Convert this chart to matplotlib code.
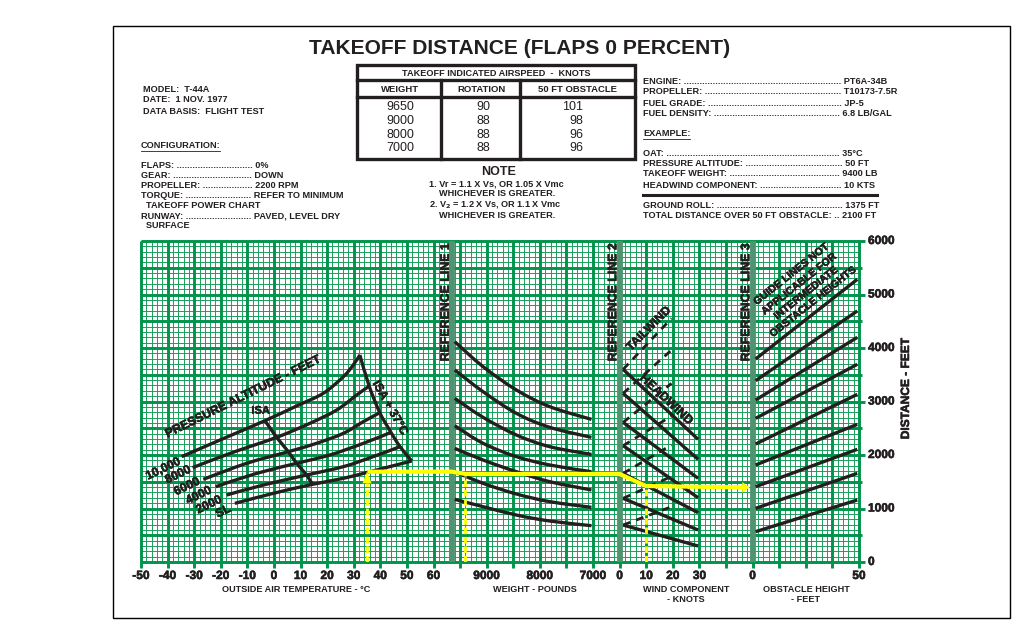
import matplotlib
matplotlib.use('Agg')
import numpy as np
import matplotlib.pyplot as plt
import matplotlib.patheffects as pe
from matplotlib.patches import Rectangle, FancyArrow, PathPatch
from matplotlib.path import Path

plt.rcParams['font.family'] = ['Liberation Sans', 'DejaVu Sans']

GREEN = '#00934a'
MINOR = '#1c9f5b'
REF = '#4e9470'
YEL = '#ffff00'
INK = '#231f20'
# heavier bold for text sitting on the grid
FAT = [pe.withStroke(linewidth=0.4, foreground=INK)]

# temperature panel, deg C / feet
t_10000 = [-34.7, -20.3, -3.4, 8.5, 18.5, 26.1, 29.8, 32.3]
d_10000 = [1969, 2280, 2641, 2916, 3152, 3464, 3682, 3869]
t_8000 = [-30.6, -16.5, 1.0, 13.5, 23.6, 31.1, 35.8]
d_8000 = [1763, 2031, 2330, 2592, 2841, 3121, 3289]
t_6000 = [-26.6, -10.3, 5.4, 16.0, 26.1, 33.6, 39.8]
d_6000 = [1545, 1844, 2062, 2218, 2405, 2623, 2791]
t_4000 = [-21.9, -6.5, 8.5, 21.0, 33.6, 44.0]
d_4000 = [1408, 1657, 1844, 2000, 2218, 2423]
t_2000 = [-17.8, -4.0, 12.3, 26.1, 37.3, 47.4]
d_2000 = [1252, 1439, 1626, 1782, 1969, 2156]
t_sl = [-14.7, -0.3, 14.5, 26.1, 36.1, 51.8]
d_sl = [1096, 1283, 1452, 1564, 1688, 1888]
t_isa = [-3.4, 1.0, 5.4, 8.5, 12.3, 14.5]
d_isa = [2641, 2330, 2062, 1844, 1626, 1452]
t_isa37 = [32.3, 35.8, 39.8, 44.0, 47.4, 51.8]
d_isa37 = [3869, 3289, 2791, 2423, 2156, 1888]

# weight panel, pounds / feet
weights = [9601, 9068, 8441, 7814, 7030]
wt_curves = [
    [4118, 3651, 3215, 2903, 2666],
    [3588, 3183, 2778, 2517, 2330],
    [3059, 2704, 2374, 2155, 2012],
    [2548, 2218, 1969, 1813, 1688],
    [2124, 1906, 1688, 1501, 1346],
    [1688, 1470, 1271, 1128, 1022],
    [1171, 1034, 878, 766, 679],
]

# wind panel, knots / feet
wind_ends = [1.3, 29.5]
head_start = [3601, 3152, 2610, 2174, 1657, 1190, 691]
head_end = [2293, 1919, 1564, 1202, 922, 598, 299]
tail_wind = [1.3, 19.5]
tail_end = [4554, 3962, 3339, 2729, 2187, 1600, 1034]

# obstacle panel, feet / feet
obst_ends = [1.4, 49.2]
obst_start = [3794, 3389, 3028, 2685, 2205, 1813, 1408, 1003, 567]
obst_end = [5283, 4692, 4199, 3695, 3134, 2573, 2106, 1657, 1159]

# worked example
ex_temp = 35
ex_weight = 9400
ex_wind = 10
ex_d1 = 1688
ex_d2 = 1645
ex_d3 = 1420
ex_d4 = 1395

temp_ticks = list(range(-50, 70, 10))
weight_ticks = [9000, 8000, 7000]
wind_ticks = [0, 10, 20, 30]
obst_ticks = [0, 50]
dist_ticks = [0, 1000, 2000, 3000, 4000, 5000, 6000]

speed_rows = [('9650', '90', '101'), ('9000', '88', '98'),
              ('8000', '88', '96'), ('7000', '88', '96')]


# every panel shares one x axis, in degrees of the temperature scale
def wx(w):
    return 67 - (np.asarray(w) - 9650) * 0.02


def wdx(k):
    return 130 + np.asarray(k)


def ox(h):
    return 180 + np.asarray(h) * 0.8


fig = plt.figure(figsize=(10.24, 6.4), dpi=100)
W, H = 1024, 640

# full-figure axes in image pixels for the page furniture
pg = fig.add_axes([0, 0, 1, 1])
pg.set_xlim(0, W)
pg.set_ylim(H, 0)
pg.axis('off')
pg.add_patch(Rectangle((113, 26), 897, 592, fc='white', ec='black', lw=1))


def txt(x, y, s, size=6.6, ha='left', weight='bold', **kw):
    return pg.text(x, y, s, fontsize=size, ha=ha, va='center', fontweight=weight,
                   color=INK, **kw)


txt(519.5, 48, 'TAKEOFF DISTANCE (FLAPS 0 PERCENT)', size=15.1, ha='center')

for y, s in [(90, 'MODEL:  T-44A'), (100, 'DATE:  1 NOV. 1977'), (111, 'DATA BASIS:  FLIGHT TEST')]:
    txt(143, y, s)
txt(141, 145, 'CONFIGURATION:')
pg.plot([141, 220], [150.5, 150.5], color=INK, lw=0.6)
left = [(165, 'FLAPS: ............................. 0%'),
        (175, 'GEAR: .............................. DOWN'),
        (185, 'PROPELLER: ................... 2200 RPM'),
        (196, 'TORQUE: ......................... REFER TO MINIMUM'),
        (206, '  TAKEOFF POWER CHART'),
        (216, 'RUNWAY: ......................... PAVED, LEVEL DRY'),
        (226, '  SURFACE')]
for y, s in left:
    txt(141, y, s)

# airspeed table
pg.add_patch(Rectangle((357, 65), 278, 94, fc='white', ec='#231f20', lw=2.4))
pg.plot([357, 635], [80, 80], color=INK, lw=2.4)
pg.plot([357, 635], [97, 97], color=INK, lw=2.4)
pg.plot([441, 441], [80, 159], color=INK, lw=2.4)
pg.plot([520, 520], [80, 159], color=INK, lw=2.4)
txt(496, 73.5, 'TAKEOFF INDICATED AIRSPEED  -  KNOTS', ha='center')
txt(400, 90, 'WEIGHT', ha='center', size=6.8)
txt(482, 90, 'ROTATION', ha='center', size=6.8)
txt(578, 90, '50 FT OBSTACLE', ha='center', size=6.8)
for i, row in enumerate(speed_rows):
    y = 107.5 + i * 13.6
    txt(400, y, row[0], size=9, ha='center', weight='normal')
    txt(483, y, row[1], size=9, ha='center', weight='normal')
    txt(573 if i == 0 else 576, y, row[2], size=9, ha='center', weight='normal')

txt(499, 172, 'NOTE', size=9, ha='center')
txt(429, 184, '1. Vr = 1.1 X Vs, OR 1.05 X Vmc')
txt(439, 194, 'WHICHEVER IS GREATER.')
txt(429, 204, '2. V$_{\\mathbf{2}}$ = 1.2 X Vs, OR 1.1 X Vmc')
txt(439, 216, 'WHICHEVER IS GREATER.')

right = [(82, 'ENGINE: ............................................................ PT6A-34B'),
         (92, 'PROPELLER: .................................................... T10173-7.5R'),
         (103, 'FUEL GRADE: ................................................... JP-5'),
         (113, 'FUEL DENSITY: ................................................ 6.8 LB/GAL'),
         (133, 'EXAMPLE:'),
         (154, 'OAT: .................................................................. 35\u00b0C'),
         (164, 'PRESSURE ALTITUDE: ..................................... 50 FT'),
         (174, 'TAKEOFF WEIGHT: .......................................... 9400 LB'),
         (185, 'HEADWIND COMPONENT: ............................... 10 KTS'),
         (205, 'GROUND ROLL: ................................................ 1375 FT'),
         (215, 'TOTAL DISTANCE OVER 50 FT OBSTACLE: .. 2100 FT')]
for y, s in right:
    txt(643, y, s)
pg.plot([643, 690], [138.5, 138.5], color=INK, lw=0.6)
pg.plot([643, 877], [194.5, 194.5], color=INK, lw=2.2)

# chart axes: x is the temperature scale carried across all four panels
ax = fig.add_axes([141 / W, 1 - 562 / H, 718 / W, 321 / H])
ax.set_xlim(-50, 220)
ax.set_ylim(0, 6000)
ax.patch.set_alpha(0)
for s in ax.spines.values():
    s.set_visible(False)
ax.set_xticks([])
ax.set_yticks([])

for x in np.arange(-50, 220.1, 2):
    ax.plot([x, x], [0, 6000], color=MINOR, lw=0.7, zorder=1, solid_capstyle='butt')
for y in np.arange(0, 6000.1, 100):
    ax.plot([-50, 220], [y, y], color=MINOR, lw=0.7, zorder=1, solid_capstyle='butt')
for x in np.arange(-50, 220.1, 10):
    ax.plot([x, x], [-110, 6000], color=GREEN, lw=2.1, zorder=2, clip_on=False, solid_capstyle='butt')
for y in np.arange(0, 6000.1, 500):
    end = 222.3 if y % 1000 == 0 else 221.3
    ax.plot([-50, end], [y, y], color=GREEN, lw=2.1, zorder=2, clip_on=False, solid_capstyle='butt')

for x, lab_s in [(wx(9650), 'REFERENCE LINE 1'), (wdx(0), 'REFERENCE LINE 2'), (ox(0), 'REFERENCE LINE 3')]:
    ax.plot([x, x], [0, 6000], color=REF, lw=4.2, zorder=3, clip_on=False, solid_capstyle='butt')
    ax.text(x - 2.4, 4860, lab_s, rotation=90, fontsize=8.9, fontweight='bold', color=INK,
            ha='center', va='center', zorder=8, path_effects=FAT)

LW = 2.4
kw = dict(color=INK, lw=LW, zorder=5, solid_capstyle='butt')


def smooth(xs, ys):
    # curved path through the read points, the points themselves stay as read
    px = ax.transData.transform(np.column_stack([xs, ys]))
    n = len(px)
    verts = [px[0]]
    codes = [Path.MOVETO]
    for i in range(n - 1):
        p0 = px[max(i - 1, 0)]
        p1 = px[i]
        p2 = px[i + 1]
        p3 = px[min(i + 2, n - 1)]
        verts += [p1 + (p2 - p0) / 6, p2 - (p3 - p1) / 6, p2]
        codes += [Path.CURVE4] * 3
    verts = ax.transData.inverted().transform(np.array(verts))
    ax.add_patch(PathPatch(Path(verts, codes), fc='none', ec=INK, lw=LW, zorder=5, capstyle='butt'))


for t, d in [(t_10000, d_10000), (t_8000, d_8000), (t_6000, d_6000), (t_4000, d_4000),
             (t_2000, d_2000), (t_sl, d_sl)]:
    smooth(t, d)
ax.plot(t_isa, d_isa, **kw)
smooth(t_isa37, d_isa37)
for c in wt_curves:
    smooth(wx(weights), c)
for a, b in zip(head_start, head_end):
    ax.plot(wdx(wind_ends), [a, b], **kw)
for a, b in zip(head_start, tail_end):
    ax.plot(wdx(tail_wind), [a, b], color=INK, lw=2.0, ls=(0, (2.8, 2.2)), zorder=4)
for a, b in zip(obst_start, obst_end):
    ax.plot(ox(obst_ends), [a, b], **kw)

# example path
ykw = dict(color=YEL, zorder=7)
dash = (0, (2.4, 1.0))
ax.plot([ex_temp, ex_temp], [0, 1480], lw=2.0, ls=dash, **ykw)
ax.add_patch(FancyArrow(ex_temp, 1440, 0, 250, width=0, head_width=3.4, head_length=220,
                        length_includes_head=True, fc=YEL, ec=YEL, lw=0, zorder=7))
ax.plot([wx(ex_weight)] * 2, [0, 1600], lw=2.0, ls=dash, **ykw)
ax.plot([wdx(ex_wind)] * 2, [0, 1400], lw=2.0, ls=dash, **ykw)
ax.plot([ex_temp + 0.9, wx(9650), wx(9400), wdx(0), wdx(ex_wind), ox(0) - 3.5],
        [ex_d1, ex_d1, ex_d2, ex_d2, ex_d3, ex_d4], lw=3.0, solid_joinstyle='miter', **ykw)
ax.add_patch(FancyArrow(ox(0) - 4, ex_d4, 2.9, 0, width=0, head_width=200, head_length=2.8,
                        length_includes_head=True, fc=YEL, ec=YEL, lw=0, zorder=7))


# rotated labels on the chart
def lab(x, y, s, rot, size=8):
    ax.text(x, y, s, rotation=rot, rotation_mode='anchor', fontsize=size, fontweight='bold',
            color=INK, ha='center', va='center', zorder=8, path_effects=FAT)


lab(-11.4, 3090, 'PRESSURE ALTITUDE - FEET', 26.3, size=8.8)
lab(-5, 2828, 'ISA', 0, size=8)
lab(43.6, 2878, 'ISA + 37\u00b0C', -60.5, size=8.7)
lab(-41.6, 1738, '10,000', 26, size=8.7)
lab(-36, 1626, '8000', 26, size=8.8)
lab(-32.6, 1407, '6000', 26, size=8.8)
lab(-28.2, 1240, '4000', 26, size=8.8)
lab(-24.4, 1065, '2000', 26, size=8.8)
lab(-19, 940, 'SL', 26, size=8.8)
lab(141, 4355, 'TAILWIND', 45, size=8.7)
lab(147.5, 3030, 'HEADWIND', -43, size=8.9)
for x, y, s in [(194.4, 5377, 'GUIDE LINES NOT'), (197.4, 5196, 'APPLICABLE FOR'),
                (200, 5028, 'INTERMEDIATE'), (202.6, 4860, 'OBSTACLE HEIGHTS')]:
    lab(x, y, s, 38.5, size=7.6)


# tick labels
def tick(x, s):
    pos = ax.transData.transform((x, 0))[0]
    pg.text(pos, 576, s, fontsize=8.6, fontweight='bold', color=INK, ha='center', va='center',
            path_effects=FAT)


for t in temp_ticks:
    tick(t, str(t))
for w in weight_ticks:
    tick(wx(w), str(w))
for k in wind_ticks:
    tick(wdx(k), str(k))
for h in obst_ticks:
    tick(ox(h), str(h))
for d in dist_ticks:
    py = ax.transData.transform((0, d))[1]
    pg.text(868, H - py, str(d), fontsize=8.6, fontweight='bold', color=INK, ha='left', va='center',
            path_effects=FAT)

txt(296, 590, 'OUTSIDE AIR TEMPERATURE - \u00b0C', ha='center')
txt(535, 590, 'WEIGHT - POUNDS', ha='center')
txt(686, 590, 'WIND COMPONENT', ha='center')
txt(686, 600, '- KNOTS', ha='center')
txt(806, 589, 'OBSTACLE HEIGHT', ha='center')
txt(806, 599, '- FEET', ha='center')
pg.text(906, 389, 'DISTANCE - FEET', rotation=90, fontsize=8.6, fontweight='bold',
        color=INK, ha='center', va='center', path_effects=FAT)

fig.savefig('out.png', dpi=100)
